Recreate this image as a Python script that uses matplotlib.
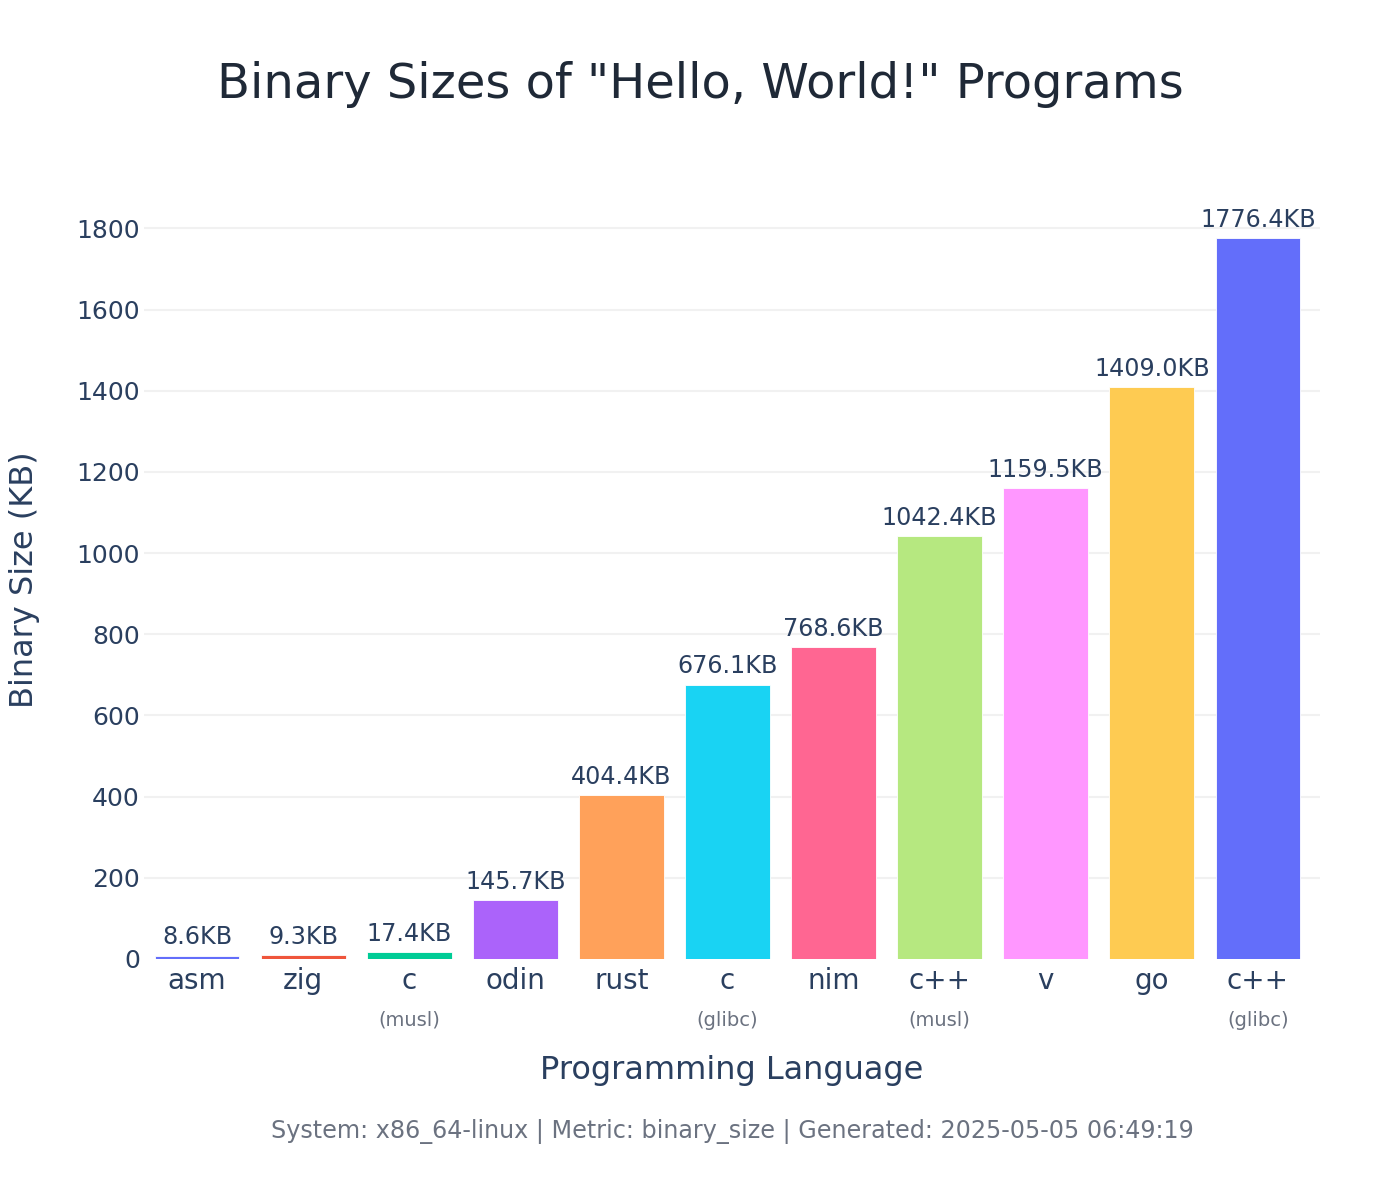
import matplotlib
matplotlib.use("Agg")
import matplotlib.pyplot as plt

# -----------------------------
# Data
# -----------------------------
languages = ["asm", "zig", "c", "odin", "rust", "c", "nim", "c++", "v", "go", "c++"]
variants = ["", "", "(musl)", "", "", "(glibc)", "", "(musl)", "", "", "(glibc)"]
sizes_kb = [8.6, 9.3, 17.4, 145.7, 404.4, 676.1, 768.6, 1042.4, 1159.5, 1409.0, 1776.4]
y_ticks = [0, 200, 400, 600, 800, 1000, 1200, 1400, 1600, 1800]

# plotly default palette
palette = ["#636efa", "#EF553B", "#00cc96", "#ab63fa", "#FFA15A", "#19d3f3",
           "#FF6692", "#B6E880", "#FF97FF", "#FECB52"]

TEXT = "#2a3f5f"
TITLE = "#1f2937"
MUTED = "#6b7280"

plt.rcParams["font.family"] = ["DejaVu Sans"]

W, H = 1400, 1200
fig = plt.figure(figsize=(W / 100, H / 100), dpi=100)
ax = fig.add_axes([144 / W, 241 / H, (1320 - 144) / W, (959 - 202) / H])

x = list(range(len(languages)))
colors = [palette[i % len(palette)] for i in x]

ax.bar(x, sizes_kb, width=0.8, color=colors, edgecolor="white", linewidth=0.6, zorder=3)

ax.set_xlim(-0.5, len(languages) - 0.5 + 0.085)
ax.set_ylim(0, 1865)

# grid + axes cosmetics
ax.set_yticks(y_ticks)
ax.set_yticklabels([str(v) for v in y_ticks], fontsize=18, color=TEXT)
ax.tick_params(axis="y", length=0, pad=3)
ax.set_xticks([])
for v in y_ticks[1:]:
    ax.axhline(v, color="#f1f1f1", linewidth=1.5, zorder=1)
for s in ax.spines.values():
    s.set_visible(False)

# value labels above bars
for xi, val in zip(x, sizes_kb):
    ax.annotate(f"{val:.1f}KB", (xi, val), xytext=(0, 4.5), textcoords="offset points",
                ha="center", va="bottom", fontsize=17.2, color=TEXT, zorder=4)

# category labels + variant sub-labels
for xi, lang, var in zip(x, languages, variants):
    ax.annotate(lang, (xi, 0), xycoords=("data", "axes fraction"),
                xytext=(0, -15.8), textcoords="offset points",
                ha="center", va="center", fontsize=20, color=TEXT)
    if var:
        ax.annotate(var, (xi, 0), xycoords=("data", "axes fraction"),
                    xytext=(0, -44), textcoords="offset points",
                    ha="center", va="center", fontsize=14, color=MUTED)

# titles
fig.text(0.5, 1 - 84 / H, 'Binary Sizes of "Hello, World!" Programs',
         ha="center", va="center", fontsize=34.6, color=TITLE)
fig.text(732 / W, 1 - 1071 / H, "Programming Language",
         ha="center", va="center", fontsize=23, color=TEXT)
fig.text(25 / W, 1 - 580 / H, "Binary Size (KB)", rotation=90,
         ha="center", va="center", fontsize=23, color=TEXT)
fig.text(732 / W, 1 - 1131 / H,
         "System: x86_64-linux | Metric: binary_size | Generated: 2025-05-05 06:49:19",
         ha="center", va="center", fontsize=17.2, color=MUTED)

fig.savefig("out.png", dpi=100, facecolor="white")
